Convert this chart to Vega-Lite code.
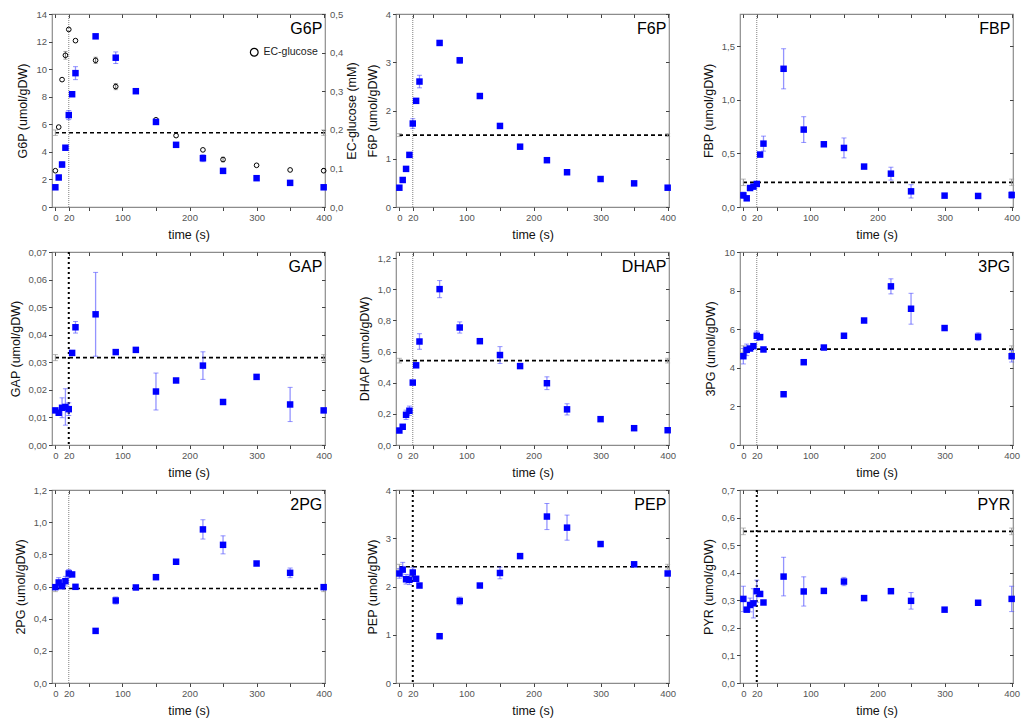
{
  "$schema": "https://vega.github.io/schema/vega-lite/v6.json",
  "padding": {"left": 8, "top": 8, "right": 6, "bottom": 4},
  "bounds": "flush",
  "columns": 3,
  "spacing": {"row": 45, "column": 71},
  "resolve": {"scale": {"shape": "independent"}},
  "datasets": {
    "pts": [
      {"m":"G6P","t":0,"v":1.43,"e":0},{"m":"G6P","t":5,"v":2.14,"e":0},{"m":"G6P","t":10,"v":3.08,"e":0.2},{"m":"G6P","t":15,"v":4.3,"e":0},{"m":"G6P","t":20,"v":6.67,"e":0.33},{"m":"G6P","t":25,"v":8.18,"e":0},{"m":"G6P","t":30,"v":9.71,"e":0.47},{"m":"G6P","t":60,"v":12.38,"e":0},{"m":"G6P","t":90,"v":10.83,"e":0.42},{"m":"G6P","t":120,"v":8.4,"e":0},{"m":"G6P","t":150,"v":6.17,"e":0},{"m":"G6P","t":180,"v":4.51,"e":0},{"m":"G6P","t":220,"v":3.54,"e":0.25},{"m":"G6P","t":250,"v":2.62,"e":0.1},{"m":"G6P","t":300,"v":2.09,"e":0},{"m":"G6P","t":350,"v":1.75,"e":0},{"m":"G6P","t":400,"v":1.43,"e":0},
      {"m":"F6P","t":0,"v":0.4,"e":0},{"m":"F6P","t":5,"v":0.56,"e":0},{"m":"F6P","t":10,"v":0.79,"e":0.04},{"m":"F6P","t":15,"v":1.08,"e":0},{"m":"F6P","t":20,"v":1.73,"e":0.1},{"m":"F6P","t":25,"v":2.2,"e":0},{"m":"F6P","t":30,"v":2.6,"e":0.13},{"m":"F6P","t":60,"v":3.4,"e":0},{"m":"F6P","t":90,"v":3.04,"e":0.06},{"m":"F6P","t":120,"v":2.3,"e":0},{"m":"F6P","t":150,"v":1.68,"e":0.03},{"m":"F6P","t":180,"v":1.25,"e":0},{"m":"F6P","t":220,"v":0.97,"e":0.03},{"m":"F6P","t":250,"v":0.72,"e":0.04},{"m":"F6P","t":300,"v":0.58,"e":0},{"m":"F6P","t":350,"v":0.49,"e":0},{"m":"F6P","t":400,"v":0.4,"e":0},
      {"m":"FBP","t":0,"v":0.109,"e":0.03},{"m":"FBP","t":5,"v":0.081,"e":0},{"m":"FBP","t":10,"v":0.177,"e":0},{"m":"FBP","t":15,"v":0.19,"e":0},{"m":"FBP","t":20,"v":0.215,"e":0.015},{"m":"FBP","t":25,"v":0.489,"e":0},{"m":"FBP","t":30,"v":0.591,"e":0.07},{"m":"FBP","t":60,"v":1.289,"e":0.187},{"m":"FBP","t":90,"v":0.722,"e":0.12},{"m":"FBP","t":120,"v":0.585,"e":0},{"m":"FBP","t":150,"v":0.551,"e":0.093},{"m":"FBP","t":180,"v":0.377,"e":0},{"m":"FBP","t":220,"v":0.311,"e":0.06},{"m":"FBP","t":250,"v":0.146,"e":0.062},{"m":"FBP","t":300,"v":0.106,"e":0},{"m":"FBP","t":350,"v":0.103,"e":0},{"m":"FBP","t":400,"v":0.112,"e":0.03},
      {"m":"GAP","t":0,"v":0.01255,"e":0},{"m":"GAP","t":5,"v":0.0117,"e":0},{"m":"GAP","t":10,"v":0.0135,"e":0.0036},{"m":"GAP","t":15,"v":0.0138,"e":0.0066},{"m":"GAP","t":20,"v":0.013,"e":0.0023},{"m":"GAP","t":25,"v":0.0334,"e":0},{"m":"GAP","t":30,"v":0.0427,"e":0.0021},{"m":"GAP","t":60,"v":0.0474,"e":0.0152},{"m":"GAP","t":90,"v":0.0337,"e":0},{"m":"GAP","t":120,"v":0.0345,"e":0},{"m":"GAP","t":150,"v":0.0194,"e":0.0067},{"m":"GAP","t":180,"v":0.0234,"e":0},{"m":"GAP","t":220,"v":0.0288,"e":0.005},{"m":"GAP","t":250,"v":0.0156,"e":0},{"m":"GAP","t":300,"v":0.0247,"e":0},{"m":"GAP","t":350,"v":0.0147,"e":0.0062},{"m":"GAP","t":400,"v":0.01255,"e":0},
      {"m":"DHAP","t":0,"v":0.093,"e":0},{"m":"DHAP","t":5,"v":0.117,"e":0},{"m":"DHAP","t":10,"v":0.194,"e":0.03},{"m":"DHAP","t":15,"v":0.22,"e":0.03},{"m":"DHAP","t":20,"v":0.401,"e":0},{"m":"DHAP","t":25,"v":0.512,"e":0},{"m":"DHAP","t":30,"v":0.665,"e":0.05},{"m":"DHAP","t":60,"v":1.0015,"e":0.055},{"m":"DHAP","t":90,"v":0.755,"e":0.036},{"m":"DHAP","t":120,"v":0.667,"e":0},{"m":"DHAP","t":150,"v":0.578,"e":0.054},{"m":"DHAP","t":180,"v":0.507,"e":0},{"m":"DHAP","t":220,"v":0.397,"e":0.041},{"m":"DHAP","t":250,"v":0.229,"e":0.036},{"m":"DHAP","t":300,"v":0.166,"e":0},{"m":"DHAP","t":350,"v":0.108,"e":0},{"m":"DHAP","t":400,"v":0.095,"e":0},
      {"m":"3PG","t":0,"v":4.6,"e":0.4},{"m":"3PG","t":5,"v":4.93,"e":0.3},{"m":"3PG","t":10,"v":5.0,"e":0},{"m":"3PG","t":15,"v":5.12,"e":0},{"m":"3PG","t":20,"v":5.66,"e":0.24},{"m":"3PG","t":25,"v":5.59,"e":0},{"m":"3PG","t":30,"v":4.95,"e":0},{"m":"3PG","t":60,"v":2.63,"e":0},{"m":"3PG","t":90,"v":4.29,"e":0.1},{"m":"3PG","t":120,"v":5.05,"e":0},{"m":"3PG","t":150,"v":5.66,"e":0.12},{"m":"3PG","t":180,"v":6.45,"e":0},{"m":"3PG","t":220,"v":8.22,"e":0.39},{"m":"3PG","t":250,"v":7.06,"e":0.8},{"m":"3PG","t":300,"v":6.06,"e":0},{"m":"3PG","t":350,"v":5.61,"e":0.2},{"m":"3PG","t":400,"v":4.6,"e":0.3},
      {"m":"2PG","t":0,"v":0.596,"e":0},{"m":"2PG","t":5,"v":0.625,"e":0.03},{"m":"2PG","t":10,"v":0.602,"e":0},{"m":"2PG","t":15,"v":0.633,"e":0.03},{"m":"2PG","t":20,"v":0.681,"e":0.025},{"m":"2PG","t":25,"v":0.675,"e":0},{"m":"2PG","t":30,"v":0.598,"e":0},{"m":"2PG","t":60,"v":0.324,"e":0},{"m":"2PG","t":90,"v":0.513,"e":0.022},{"m":"2PG","t":120,"v":0.594,"e":0},{"m":"2PG","t":150,"v":0.658,"e":0.015},{"m":"2PG","t":180,"v":0.754,"e":0},{"m":"2PG","t":220,"v":0.955,"e":0.06},{"m":"2PG","t":250,"v":0.859,"e":0.056},{"m":"2PG","t":300,"v":0.743,"e":0},{"m":"2PG","t":350,"v":0.685,"e":0.03},{"m":"2PG","t":400,"v":0.596,"e":0},
      {"m":"PEP","t":0,"v":2.27,"e":0.1},{"m":"PEP","t":5,"v":2.35,"e":0.15},{"m":"PEP","t":10,"v":2.15,"e":0.1},{"m":"PEP","t":15,"v":2.14,"e":0.1},{"m":"PEP","t":20,"v":2.29,"e":0.1},{"m":"PEP","t":25,"v":2.16,"e":0},{"m":"PEP","t":30,"v":2.02,"e":0},{"m":"PEP","t":60,"v":0.97,"e":0},{"m":"PEP","t":90,"v":1.7,"e":0.08},{"m":"PEP","t":120,"v":2.02,"e":0},{"m":"PEP","t":150,"v":2.28,"e":0.12},{"m":"PEP","t":180,"v":2.63,"e":0},{"m":"PEP","t":220,"v":3.45,"e":0.27},{"m":"PEP","t":250,"v":3.22,"e":0.26},{"m":"PEP","t":300,"v":2.88,"e":0},{"m":"PEP","t":350,"v":2.46,"e":0},{"m":"PEP","t":400,"v":2.27,"e":0},
      {"m":"PYR","t":0,"v":0.305,"e":0.046},{"m":"PYR","t":5,"v":0.266,"e":0},{"m":"PYR","t":10,"v":0.283,"e":0.025},{"m":"PYR","t":15,"v":0.289,"e":0.053},{"m":"PYR","t":20,"v":0.333,"e":0.04},{"m":"PYR","t":25,"v":0.323,"e":0},{"m":"PYR","t":30,"v":0.292,"e":0.005},{"m":"PYR","t":60,"v":0.386,"e":0.07},{"m":"PYR","t":90,"v":0.332,"e":0.053},{"m":"PYR","t":120,"v":0.334,"e":0},{"m":"PYR","t":150,"v":0.368,"e":0.015},{"m":"PYR","t":180,"v":0.308,"e":0},{"m":"PYR","t":220,"v":0.333,"e":0},{"m":"PYR","t":250,"v":0.298,"e":0.03},{"m":"PYR","t":300,"v":0.266,"e":0},{"m":"PYR","t":350,"v":0.291,"e":0},{"m":"PYR","t":400,"v":0.305,"e":0.046}
    ],
    "ss": [
      {"m":"G6P","t":0,"v":5.39,"e":0.2},{"m":"G6P","t":400,"v":5.39,"e":0.2},
      {"m":"F6P","t":0,"v":1.49,"e":0.03},{"m":"F6P","t":400,"v":1.49,"e":0.03},
      {"m":"FBP","t":0,"v":0.23,"e":0.03},{"m":"FBP","t":400,"v":0.23,"e":0.03},
      {"m":"GAP","t":0,"v":0.0317,"e":0.0011},{"m":"GAP","t":400,"v":0.0317,"e":0.0011},
      {"m":"DHAP","t":0,"v":0.542,"e":0.015},{"m":"DHAP","t":400,"v":0.542,"e":0.015},
      {"m":"3PG","t":0,"v":4.97,"e":0.17},{"m":"3PG","t":400,"v":4.97,"e":0.17},
      {"m":"2PG","t":0,"v":0.588,"e":0.02},{"m":"2PG","t":400,"v":0.588,"e":0.02},
      {"m":"PEP","t":0,"v":2.41,"e":0.05},{"m":"PEP","t":400,"v":2.41,"e":0.05},
      {"m":"PYR","t":0,"v":0.55,"e":0.012},{"m":"PYR","t":400,"v":0.55,"e":0.012}
    ],
    "glc": [
      {"t":0,"v":0.094,"e":0},{"t":5,"v":0.207,"e":0},{"t":10,"v":0.33,"e":0},{"t":15,"v":0.393,"e":0.01},{"t":20,"v":0.46,"e":0},{"t":30,"v":0.431,"e":0},{"t":60,"v":0.38,"e":0.008},{"t":90,"v":0.312,"e":0.008},{"t":150,"v":0.226,"e":0},{"t":180,"v":0.185,"e":0},{"t":220,"v":0.148,"e":0},{"t":250,"v":0.123,"e":0.006},{"t":300,"v":0.108,"e":0},{"t":350,"v":0.096,"e":0},{"t":400,"v":0.094,"e":0}
    ],
    "pulse": [{"t":20}]
  },
  "concat": [
    {
      "width": 273, "height": 193,
      "resolve": {"scale": {"y": "independent"}},
      "layer": [
        {"data": {"name": "ss"}, "transform": [{"filter": "datum.m == 'G6P' && datum.t == 0"}],
         "mark": {"type": "rule", "color": "black", "strokeWidth": 1.6, "strokeDash": [4, 3]},
         "encoding": {"y": {"field": "v", "type": "quantitative", "scale": {"domain": [0, 14], "nice": false, "padding": 0}, "axis": null}}},
        {"data": {"name": "ss"}, "transform": [{"filter": "datum.m == 'G6P'"}],
         "mark": {"type": "errorbar", "color": "#9a9a9a", "ticks": {"size": 5}},
         "encoding": {"x": {"field": "t", "type": "quantitative", "axis": null}, "y": {"field": "v", "type": "quantitative", "scale": {"domain": [0, 14], "nice": false, "padding": 0}, "axis": null}, "yError": {"field": "e"}}},
        {"data": {"name": "pulse"},
         "mark": {"type": "rule", "color": "#808080", "strokeWidth": 1, "strokeDash": [1, 1]},
         "encoding": {"x": {"field": "t", "type": "quantitative", "axis": {"orient": "top", "labels": false, "title": null, "tickSize": -3.5, "values": [0, 20, 50, 100, 150, 200, 250, 300, 350, 400]}}}},
        {"data": {"name": "pts"}, "transform": [{"filter": "datum.m == 'G6P' && datum.e > 0"}],
         "mark": {"type": "errorbar", "color": "#4d4dff", "opacity": 0.6, "ticks": {"size": 5}, "rule": {"strokeWidth": 1.3}},
         "encoding": {"x": {"field": "t", "type": "quantitative", "axis": null}, "y": {"field": "v", "type": "quantitative", "scale": {"domain": [0, 14], "nice": false, "padding": 0}, "axis": null}, "yError": {"field": "e"}}},
        {"data": {"name": "glc"}, "transform": [{"filter": "datum.e > 0"}],
         "mark": {"type": "errorbar", "color": "#777777", "ticks": {"size": 4}},
         "encoding": {"x": {"field": "t", "type": "quantitative", "axis": null}, "y": {"field": "v", "type": "quantitative", "scale": {"domain": [0, 0.5], "nice": false, "padding": 0}, "axis": null}, "yError": {"field": "e"}}},
        {"data": {"name": "glc"},
         "mark": {"type": "point", "filled": false, "color": "black", "size": 22, "strokeWidth": 1, "opacity": 1},
         "encoding": {
           "x": {"field": "t", "type": "quantitative", "axis": null},
           "y": {"field": "v", "type": "quantitative", "scale": {"domain": [0, 0.5], "nice": false, "padding": 0}, "axis": {"orient": "right", "title": "EC-glucose (mM)", "values": [0, 0.1, 0.2, 0.3, 0.4, 0.5], "labelExpr": "replace(format(datum.value, '.1f'), '.', ',')", "tickSize": -3.5, "labelPadding": 8, "titlePadding": 3, "titleAngle": 270, "titleBaseline": "top"}},
           "shape": {"datum": "EC-glucose", "type": "nominal", "scale": {"range": ["circle"]}, "legend": {"title": null, "orient": "none", "legendX": 197, "legendY": 33, "labelFontSize": 10.5, "labelColor": "#222", "symbolSize": 60, "symbolStrokeColor": "black", "symbolStrokeWidth": 1.2, "symbolFillColor": "transparent"}}}},
        {"data": {"name": "pts"}, "transform": [{"filter": "datum.m == 'G6P'"}],
         "mark": {"type": "square", "color": "#0000ff", "size": 42, "opacity": 1},
         "encoding": {
           "x": {"field": "t", "type": "quantitative", "scale": {"domain": [-5, 402], "nice": false, "padding": 0}, "axis": {"orient": "bottom", "title": "time (s)", "values": [0, 20, 50, 100, 150, 200, 250, 300, 350, 400], "labelExpr": "indexof([0,20,100,200,300,400], datum.value) >= 0 ? datum.label : ''"}},
           "y": {"field": "v", "type": "quantitative", "scale": {"domain": [0, 14], "nice": false, "padding": 0}, "axis": {"orient": "left", "title": "G6P (umol/gDW)", "values": [0, 2, 4, 6, 8, 10, 12, 14]}}}},
        {"data": {"name": "ss"}, "transform": [{"filter": "datum.m == 'G6P' && datum.t == 0"}],
         "mark": {"type": "text", "align": "right", "baseline": "top", "fontSize": 16, "dy": 7},
         "encoding": {"text": {"field": "m"}, "x": {"datum": 398, "type": "quantitative", "axis": null}, "y": {"datum": 14, "type": "quantitative", "scale": {"domain": [0, 14], "nice": false, "padding": 0}, "axis": null}}}
      ]
    },
    {
      "width": 273, "height": 193,
      "layer": [
        {"data": {"name": "ss"}, "transform": [{"filter": "datum.m == 'F6P' && datum.t == 0"}],
         "mark": {"type": "rule", "color": "black", "strokeWidth": 1.6, "strokeDash": [4, 3]},
         "encoding": {"y": {"field": "v", "type": "quantitative", "axis": {"orient": "right", "labels": false, "title": null, "tickSize": -3.5, "values": [0, 1, 2, 3, 4]}}}},
        {"data": {"name": "ss"}, "transform": [{"filter": "datum.m == 'F6P'"}],
         "mark": {"type": "errorbar", "color": "#9a9a9a", "ticks": {"size": 5}},
         "encoding": {"x": {"field": "t", "type": "quantitative", "axis": null}, "y": {"field": "v", "type": "quantitative", "axis": null}, "yError": {"field": "e"}}},
        {"data": {"name": "pulse"},
         "mark": {"type": "rule", "color": "#808080", "strokeWidth": 1, "strokeDash": [1, 1]},
         "encoding": {"x": {"field": "t", "type": "quantitative", "axis": {"orient": "top", "labels": false, "title": null, "tickSize": -3.5, "values": [0, 20, 50, 100, 150, 200, 250, 300, 350, 400]}}}},
        {"data": {"name": "pts"}, "transform": [{"filter": "datum.m == 'F6P' && datum.e > 0"}],
         "mark": {"type": "errorbar", "color": "#4d4dff", "opacity": 0.6, "ticks": {"size": 5}, "rule": {"strokeWidth": 1.3}},
         "encoding": {"x": {"field": "t", "type": "quantitative", "axis": null}, "y": {"field": "v", "type": "quantitative", "axis": null}, "yError": {"field": "e"}}},
        {"data": {"name": "pts"}, "transform": [{"filter": "datum.m == 'F6P'"}],
         "mark": {"type": "square", "color": "#0000ff", "size": 42, "opacity": 1},
         "encoding": {
           "x": {"field": "t", "type": "quantitative", "scale": {"domain": [-5, 402], "nice": false, "padding": 0}, "axis": {"orient": "bottom", "title": "time (s)", "values": [0, 20, 50, 100, 150, 200, 250, 300, 350, 400], "labelExpr": "indexof([0,20,100,200,300,400], datum.value) >= 0 ? datum.label : ''"}},
           "y": {"field": "v", "type": "quantitative", "scale": {"domain": [0, 4], "nice": false, "padding": 0}, "axis": {"orient": "left", "title": "F6P (umol/gDW)", "values": [0, 1, 2, 3, 4]}}}},
        {"data": {"name": "ss"}, "transform": [{"filter": "datum.m == 'F6P' && datum.t == 0"}],
         "mark": {"type": "text", "align": "right", "baseline": "top", "fontSize": 16, "dy": 7},
         "encoding": {"text": {"field": "m"}, "x": {"datum": 398, "type": "quantitative", "axis": null}, "y": {"datum": 4, "type": "quantitative", "axis": null}}}
      ]
    },
    {
      "width": 273, "height": 193,
      "layer": [
        {"data": {"name": "ss"}, "transform": [{"filter": "datum.m == 'FBP' && datum.t == 0"}],
         "mark": {"type": "rule", "color": "black", "strokeWidth": 1.6, "strokeDash": [4, 3]},
         "encoding": {"y": {"field": "v", "type": "quantitative", "axis": {"orient": "right", "labels": false, "title": null, "tickSize": -3.5, "values": [0, 0.5, 1, 1.5]}}}},
        {"data": {"name": "ss"}, "transform": [{"filter": "datum.m == 'FBP'"}],
         "mark": {"type": "errorbar", "color": "#9a9a9a", "ticks": {"size": 5}},
         "encoding": {"x": {"field": "t", "type": "quantitative", "axis": null}, "y": {"field": "v", "type": "quantitative", "axis": null}, "yError": {"field": "e"}}},
        {"data": {"name": "pulse"},
         "mark": {"type": "rule", "color": "#808080", "strokeWidth": 1, "strokeDash": [1, 1]},
         "encoding": {"x": {"field": "t", "type": "quantitative", "axis": {"orient": "top", "labels": false, "title": null, "tickSize": -3.5, "values": [0, 20, 50, 100, 150, 200, 250, 300, 350, 400]}}}},
        {"data": {"name": "pts"}, "transform": [{"filter": "datum.m == 'FBP' && datum.e > 0"}],
         "mark": {"type": "errorbar", "color": "#4d4dff", "opacity": 0.6, "ticks": {"size": 5}, "rule": {"strokeWidth": 1.3}},
         "encoding": {"x": {"field": "t", "type": "quantitative", "axis": null}, "y": {"field": "v", "type": "quantitative", "axis": null}, "yError": {"field": "e"}}},
        {"data": {"name": "pts"}, "transform": [{"filter": "datum.m == 'FBP'"}],
         "mark": {"type": "square", "color": "#0000ff", "size": 42, "opacity": 1},
         "encoding": {
           "x": {"field": "t", "type": "quantitative", "scale": {"domain": [-5, 402], "nice": false, "padding": 0}, "axis": {"orient": "bottom", "title": "time (s)", "values": [0, 20, 50, 100, 150, 200, 250, 300, 350, 400], "labelExpr": "indexof([0,20,100,200,300,400], datum.value) >= 0 ? datum.label : ''"}},
           "y": {"field": "v", "type": "quantitative", "scale": {"domain": [0, 1.8], "nice": false, "padding": 0}, "axis": {"orient": "left", "title": "FBP (umol/gDW)", "values": [0, 0.5, 1, 1.5], "labelExpr": "replace(format(datum.value, '.1f'), '.', ',')"}}}},
        {"data": {"name": "ss"}, "transform": [{"filter": "datum.m == 'FBP' && datum.t == 0"}],
         "mark": {"type": "text", "align": "right", "baseline": "top", "fontSize": 16, "dy": 7},
         "encoding": {"text": {"field": "m"}, "x": {"datum": 398, "type": "quantitative", "axis": null}, "y": {"datum": 1.8, "type": "quantitative", "axis": null}}}
      ]
    },
    {
      "width": 273, "height": 193,
      "layer": [
        {"data": {"name": "ss"}, "transform": [{"filter": "datum.m == 'GAP' && datum.t == 0"}],
         "mark": {"type": "rule", "color": "black", "strokeWidth": 1.6, "strokeDash": [4, 3]},
         "encoding": {"y": {"field": "v", "type": "quantitative", "axis": {"orient": "right", "labels": false, "title": null, "tickSize": -3.5, "values": [0, 0.01, 0.02, 0.03, 0.04, 0.05, 0.06, 0.07]}}}},
        {"data": {"name": "ss"}, "transform": [{"filter": "datum.m == 'GAP'"}],
         "mark": {"type": "errorbar", "color": "#9a9a9a", "ticks": {"size": 5}},
         "encoding": {"x": {"field": "t", "type": "quantitative", "axis": null}, "y": {"field": "v", "type": "quantitative", "axis": null}, "yError": {"field": "e"}}},
        {"data": {"name": "pulse"},
         "mark": {"type": "rule", "color": "black", "strokeWidth": 2, "strokeDash": [2, 3]},
         "encoding": {"x": {"field": "t", "type": "quantitative", "axis": {"orient": "top", "labels": false, "title": null, "tickSize": -3.5, "values": [0, 20, 50, 100, 150, 200, 250, 300, 350, 400]}}}},
        {"data": {"name": "pts"}, "transform": [{"filter": "datum.m == 'GAP' && datum.e > 0"}],
         "mark": {"type": "errorbar", "color": "#4d4dff", "opacity": 0.6, "ticks": {"size": 5}, "rule": {"strokeWidth": 1.3}},
         "encoding": {"x": {"field": "t", "type": "quantitative", "axis": null}, "y": {"field": "v", "type": "quantitative", "axis": null}, "yError": {"field": "e"}}},
        {"data": {"name": "pts"}, "transform": [{"filter": "datum.m == 'GAP'"}],
         "mark": {"type": "square", "color": "#0000ff", "size": 42, "opacity": 1},
         "encoding": {
           "x": {"field": "t", "type": "quantitative", "scale": {"domain": [-5, 402], "nice": false, "padding": 0}, "axis": {"orient": "bottom", "title": "time (s)", "values": [0, 20, 50, 100, 150, 200, 250, 300, 350, 400], "labelExpr": "indexof([0,20,100,200,300,400], datum.value) >= 0 ? datum.label : ''"}},
           "y": {"field": "v", "type": "quantitative", "scale": {"domain": [0, 0.07], "nice": false, "padding": 0}, "axis": {"orient": "left", "title": "GAP (umol/gDW)", "values": [0, 0.01, 0.02, 0.03, 0.04, 0.05, 0.06, 0.07], "labelExpr": "replace(format(datum.value, '.2f'), '.', ',')"}}}},
        {"data": {"name": "ss"}, "transform": [{"filter": "datum.m == 'GAP' && datum.t == 0"}],
         "mark": {"type": "text", "align": "right", "baseline": "top", "fontSize": 16, "dy": 7},
         "encoding": {"text": {"field": "m"}, "x": {"datum": 398, "type": "quantitative", "axis": null}, "y": {"datum": 0.07, "type": "quantitative", "axis": null}}}
      ]
    },
    {
      "width": 273, "height": 193,
      "layer": [
        {"data": {"name": "ss"}, "transform": [{"filter": "datum.m == 'DHAP' && datum.t == 0"}],
         "mark": {"type": "rule", "color": "black", "strokeWidth": 1.6, "strokeDash": [4, 3]},
         "encoding": {"y": {"field": "v", "type": "quantitative", "axis": {"orient": "right", "labels": false, "title": null, "tickSize": -3.5, "values": [0, 0.2, 0.4, 0.6, 0.8, 1, 1.2]}}}},
        {"data": {"name": "ss"}, "transform": [{"filter": "datum.m == 'DHAP'"}],
         "mark": {"type": "errorbar", "color": "#9a9a9a", "ticks": {"size": 5}},
         "encoding": {"x": {"field": "t", "type": "quantitative", "axis": null}, "y": {"field": "v", "type": "quantitative", "axis": null}, "yError": {"field": "e"}}},
        {"data": {"name": "pulse"},
         "mark": {"type": "rule", "color": "#808080", "strokeWidth": 1, "strokeDash": [1, 1]},
         "encoding": {"x": {"field": "t", "type": "quantitative", "axis": {"orient": "top", "labels": false, "title": null, "tickSize": -3.5, "values": [0, 20, 50, 100, 150, 200, 250, 300, 350, 400]}}}},
        {"data": {"name": "pts"}, "transform": [{"filter": "datum.m == 'DHAP' && datum.e > 0"}],
         "mark": {"type": "errorbar", "color": "#4d4dff", "opacity": 0.6, "ticks": {"size": 5}, "rule": {"strokeWidth": 1.3}},
         "encoding": {"x": {"field": "t", "type": "quantitative", "axis": null}, "y": {"field": "v", "type": "quantitative", "axis": null}, "yError": {"field": "e"}}},
        {"data": {"name": "pts"}, "transform": [{"filter": "datum.m == 'DHAP'"}],
         "mark": {"type": "square", "color": "#0000ff", "size": 42, "opacity": 1},
         "encoding": {
           "x": {"field": "t", "type": "quantitative", "scale": {"domain": [-5, 402], "nice": false, "padding": 0}, "axis": {"orient": "bottom", "title": "time (s)", "values": [0, 20, 50, 100, 150, 200, 250, 300, 350, 400], "labelExpr": "indexof([0,20,100,200,300,400], datum.value) >= 0 ? datum.label : ''"}},
           "y": {"field": "v", "type": "quantitative", "scale": {"domain": [0, 1.24], "nice": false, "padding": 0}, "axis": {"orient": "left", "title": "DHAP (umol/gDW)", "values": [0, 0.2, 0.4, 0.6, 0.8, 1, 1.2], "labelExpr": "replace(format(datum.value, '.1f'), '.', ',')"}}}},
        {"data": {"name": "ss"}, "transform": [{"filter": "datum.m == 'DHAP' && datum.t == 0"}],
         "mark": {"type": "text", "align": "right", "baseline": "top", "fontSize": 16, "dy": 7},
         "encoding": {"text": {"field": "m"}, "x": {"datum": 398, "type": "quantitative", "axis": null}, "y": {"datum": 1.24, "type": "quantitative", "axis": null}}}
      ]
    },
    {
      "width": 273, "height": 193,
      "layer": [
        {"data": {"name": "ss"}, "transform": [{"filter": "datum.m == '3PG' && datum.t == 0"}],
         "mark": {"type": "rule", "color": "black", "strokeWidth": 1.6, "strokeDash": [4, 3]},
         "encoding": {"y": {"field": "v", "type": "quantitative", "axis": {"orient": "right", "labels": false, "title": null, "tickSize": -3.5, "values": [0, 2, 4, 6, 8, 10]}}}},
        {"data": {"name": "ss"}, "transform": [{"filter": "datum.m == '3PG'"}],
         "mark": {"type": "errorbar", "color": "#9a9a9a", "ticks": {"size": 5}},
         "encoding": {"x": {"field": "t", "type": "quantitative", "axis": null}, "y": {"field": "v", "type": "quantitative", "axis": null}, "yError": {"field": "e"}}},
        {"data": {"name": "pulse"},
         "mark": {"type": "rule", "color": "#808080", "strokeWidth": 1, "strokeDash": [1, 1]},
         "encoding": {"x": {"field": "t", "type": "quantitative", "axis": {"orient": "top", "labels": false, "title": null, "tickSize": -3.5, "values": [0, 20, 50, 100, 150, 200, 250, 300, 350, 400]}}}},
        {"data": {"name": "pts"}, "transform": [{"filter": "datum.m == '3PG' && datum.e > 0"}],
         "mark": {"type": "errorbar", "color": "#4d4dff", "opacity": 0.6, "ticks": {"size": 5}, "rule": {"strokeWidth": 1.3}},
         "encoding": {"x": {"field": "t", "type": "quantitative", "axis": null}, "y": {"field": "v", "type": "quantitative", "axis": null}, "yError": {"field": "e"}}},
        {"data": {"name": "pts"}, "transform": [{"filter": "datum.m == '3PG'"}],
         "mark": {"type": "square", "color": "#0000ff", "size": 42, "opacity": 1},
         "encoding": {
           "x": {"field": "t", "type": "quantitative", "scale": {"domain": [-5, 402], "nice": false, "padding": 0}, "axis": {"orient": "bottom", "title": "time (s)", "values": [0, 20, 50, 100, 150, 200, 250, 300, 350, 400], "labelExpr": "indexof([0,20,100,200,300,400], datum.value) >= 0 ? datum.label : ''"}},
           "y": {"field": "v", "type": "quantitative", "scale": {"domain": [0, 10], "nice": false, "padding": 0}, "axis": {"orient": "left", "title": "3PG (umol/gDW)", "values": [0, 2, 4, 6, 8, 10]}}}},
        {"data": {"name": "ss"}, "transform": [{"filter": "datum.m == '3PG' && datum.t == 0"}],
         "mark": {"type": "text", "align": "right", "baseline": "top", "fontSize": 16, "dy": 7},
         "encoding": {"text": {"field": "m"}, "x": {"datum": 398, "type": "quantitative", "axis": null}, "y": {"datum": 10, "type": "quantitative", "axis": null}}}
      ]
    },
    {
      "width": 273, "height": 193,
      "layer": [
        {"data": {"name": "ss"}, "transform": [{"filter": "datum.m == '2PG' && datum.t == 0"}],
         "mark": {"type": "rule", "color": "black", "strokeWidth": 1.6, "strokeDash": [4, 3]},
         "encoding": {"y": {"field": "v", "type": "quantitative", "axis": {"orient": "right", "labels": false, "title": null, "tickSize": -3.5, "values": [0, 0.2, 0.4, 0.6, 0.8, 1, 1.2]}}}},
        {"data": {"name": "ss"}, "transform": [{"filter": "datum.m == '2PG'"}],
         "mark": {"type": "errorbar", "color": "#9a9a9a", "ticks": {"size": 5}},
         "encoding": {"x": {"field": "t", "type": "quantitative", "axis": null}, "y": {"field": "v", "type": "quantitative", "axis": null}, "yError": {"field": "e"}}},
        {"data": {"name": "pulse"},
         "mark": {"type": "rule", "color": "#808080", "strokeWidth": 1, "strokeDash": [1, 1]},
         "encoding": {"x": {"field": "t", "type": "quantitative", "axis": {"orient": "top", "labels": false, "title": null, "tickSize": -3.5, "values": [0, 20, 50, 100, 150, 200, 250, 300, 350, 400]}}}},
        {"data": {"name": "pts"}, "transform": [{"filter": "datum.m == '2PG' && datum.e > 0"}],
         "mark": {"type": "errorbar", "color": "#4d4dff", "opacity": 0.6, "ticks": {"size": 5}, "rule": {"strokeWidth": 1.3}},
         "encoding": {"x": {"field": "t", "type": "quantitative", "axis": null}, "y": {"field": "v", "type": "quantitative", "axis": null}, "yError": {"field": "e"}}},
        {"data": {"name": "pts"}, "transform": [{"filter": "datum.m == '2PG'"}],
         "mark": {"type": "square", "color": "#0000ff", "size": 42, "opacity": 1},
         "encoding": {
           "x": {"field": "t", "type": "quantitative", "scale": {"domain": [-5, 402], "nice": false, "padding": 0}, "axis": {"orient": "bottom", "title": "time (s)", "values": [0, 20, 50, 100, 150, 200, 250, 300, 350, 400], "labelExpr": "indexof([0,20,100,200,300,400], datum.value) >= 0 ? datum.label : ''"}},
           "y": {"field": "v", "type": "quantitative", "scale": {"domain": [0, 1.2], "nice": false, "padding": 0}, "axis": {"orient": "left", "title": "2PG (umol/gDW)", "values": [0, 0.2, 0.4, 0.6, 0.8, 1, 1.2], "labelExpr": "replace(format(datum.value, '.1f'), '.', ',')"}}}},
        {"data": {"name": "ss"}, "transform": [{"filter": "datum.m == '2PG' && datum.t == 0"}],
         "mark": {"type": "text", "align": "right", "baseline": "top", "fontSize": 16, "dy": 7},
         "encoding": {"text": {"field": "m"}, "x": {"datum": 398, "type": "quantitative", "axis": null}, "y": {"datum": 1.2, "type": "quantitative", "axis": null}}}
      ]
    },
    {
      "width": 273, "height": 193,
      "layer": [
        {"data": {"name": "ss"}, "transform": [{"filter": "datum.m == 'PEP' && datum.t == 0"}],
         "mark": {"type": "rule", "color": "black", "strokeWidth": 1.6, "strokeDash": [4, 3]},
         "encoding": {"y": {"field": "v", "type": "quantitative", "axis": {"orient": "right", "labels": false, "title": null, "tickSize": -3.5, "values": [0, 1, 2, 3, 4]}}}},
        {"data": {"name": "ss"}, "transform": [{"filter": "datum.m == 'PEP'"}],
         "mark": {"type": "errorbar", "color": "#9a9a9a", "ticks": {"size": 5}},
         "encoding": {"x": {"field": "t", "type": "quantitative", "axis": null}, "y": {"field": "v", "type": "quantitative", "axis": null}, "yError": {"field": "e"}}},
        {"data": {"name": "pulse"},
         "mark": {"type": "rule", "color": "black", "strokeWidth": 2, "strokeDash": [2, 3]},
         "encoding": {"x": {"field": "t", "type": "quantitative", "axis": {"orient": "top", "labels": false, "title": null, "tickSize": -3.5, "values": [0, 20, 50, 100, 150, 200, 250, 300, 350, 400]}}}},
        {"data": {"name": "pts"}, "transform": [{"filter": "datum.m == 'PEP' && datum.e > 0"}],
         "mark": {"type": "errorbar", "color": "#4d4dff", "opacity": 0.6, "ticks": {"size": 5}, "rule": {"strokeWidth": 1.3}},
         "encoding": {"x": {"field": "t", "type": "quantitative", "axis": null}, "y": {"field": "v", "type": "quantitative", "axis": null}, "yError": {"field": "e"}}},
        {"data": {"name": "pts"}, "transform": [{"filter": "datum.m == 'PEP'"}],
         "mark": {"type": "square", "color": "#0000ff", "size": 42, "opacity": 1},
         "encoding": {
           "x": {"field": "t", "type": "quantitative", "scale": {"domain": [-5, 402], "nice": false, "padding": 0}, "axis": {"orient": "bottom", "title": "time (s)", "values": [0, 20, 50, 100, 150, 200, 250, 300, 350, 400], "labelExpr": "indexof([0,20,100,200,300,400], datum.value) >= 0 ? datum.label : ''"}},
           "y": {"field": "v", "type": "quantitative", "scale": {"domain": [0, 4], "nice": false, "padding": 0}, "axis": {"orient": "left", "title": "PEP (umol/gDW)", "values": [0, 1, 2, 3, 4]}}}},
        {"data": {"name": "ss"}, "transform": [{"filter": "datum.m == 'PEP' && datum.t == 0"}],
         "mark": {"type": "text", "align": "right", "baseline": "top", "fontSize": 16, "dy": 7},
         "encoding": {"text": {"field": "m"}, "x": {"datum": 398, "type": "quantitative", "axis": null}, "y": {"datum": 4, "type": "quantitative", "axis": null}}}
      ]
    },
    {
      "width": 273, "height": 193,
      "layer": [
        {"data": {"name": "ss"}, "transform": [{"filter": "datum.m == 'PYR' && datum.t == 0"}],
         "mark": {"type": "rule", "color": "black", "strokeWidth": 1.6, "strokeDash": [4, 3]},
         "encoding": {"y": {"field": "v", "type": "quantitative", "axis": {"orient": "right", "labels": false, "title": null, "tickSize": -3.5, "values": [0, 0.1, 0.2, 0.3, 0.4, 0.5, 0.6, 0.7]}}}},
        {"data": {"name": "ss"}, "transform": [{"filter": "datum.m == 'PYR'"}],
         "mark": {"type": "errorbar", "color": "#9a9a9a", "ticks": {"size": 5}},
         "encoding": {"x": {"field": "t", "type": "quantitative", "axis": null}, "y": {"field": "v", "type": "quantitative", "axis": null}, "yError": {"field": "e"}}},
        {"data": {"name": "pulse"},
         "mark": {"type": "rule", "color": "black", "strokeWidth": 2, "strokeDash": [2, 3]},
         "encoding": {"x": {"field": "t", "type": "quantitative", "axis": {"orient": "top", "labels": false, "title": null, "tickSize": -3.5, "values": [0, 20, 50, 100, 150, 200, 250, 300, 350, 400]}}}},
        {"data": {"name": "pts"}, "transform": [{"filter": "datum.m == 'PYR' && datum.e > 0"}],
         "mark": {"type": "errorbar", "color": "#4d4dff", "opacity": 0.6, "ticks": {"size": 5}, "rule": {"strokeWidth": 1.3}},
         "encoding": {"x": {"field": "t", "type": "quantitative", "axis": null}, "y": {"field": "v", "type": "quantitative", "axis": null}, "yError": {"field": "e"}}},
        {"data": {"name": "pts"}, "transform": [{"filter": "datum.m == 'PYR'"}],
         "mark": {"type": "square", "color": "#0000ff", "size": 42, "opacity": 1},
         "encoding": {
           "x": {"field": "t", "type": "quantitative", "scale": {"domain": [-5, 402], "nice": false, "padding": 0}, "axis": {"orient": "bottom", "title": "time (s)", "values": [0, 20, 50, 100, 150, 200, 250, 300, 350, 400], "labelExpr": "indexof([0,20,100,200,300,400], datum.value) >= 0 ? datum.label : ''"}},
           "y": {"field": "v", "type": "quantitative", "scale": {"domain": [0, 0.7], "nice": false, "padding": 0}, "axis": {"orient": "left", "title": "PYR (umol/gDW)", "values": [0, 0.1, 0.2, 0.3, 0.4, 0.5, 0.6, 0.7], "labelExpr": "replace(format(datum.value, '.1f'), '.', ',')"}}}},
        {"data": {"name": "ss"}, "transform": [{"filter": "datum.m == 'PYR' && datum.t == 0"}],
         "mark": {"type": "text", "align": "right", "baseline": "top", "fontSize": 16, "dy": 7},
         "encoding": {"text": {"field": "m"}, "x": {"datum": 398, "type": "quantitative", "axis": null}, "y": {"datum": 0.7, "type": "quantitative", "axis": null}}}
      ]
    }
  ],
  "config": {
    "font": "Liberation Sans",
    "background": "white",
    "view": {"stroke": "#8c8c8c", "strokeWidth": 1.2},
    "axis": {
      "domain": false, "grid": false,
      "labelFont": "Liberation Sans", "labelFontSize": 9.5, "labelColor": "#555555", "labelPadding": 2, "labelOverlap": false,
      "tickColor": "#444444", "tickSize": 3.5, "tickWidth": 1,
      "titleFont": "Liberation Sans", "titleFontSize": 12.5, "titleFontWeight": "normal", "titleColor": "#111111", "titlePadding": 6
    },
    "legend": {"labelFont": "Liberation Sans"},
    "text": {"font": "Liberation Sans", "color": "black"}
  }
}
